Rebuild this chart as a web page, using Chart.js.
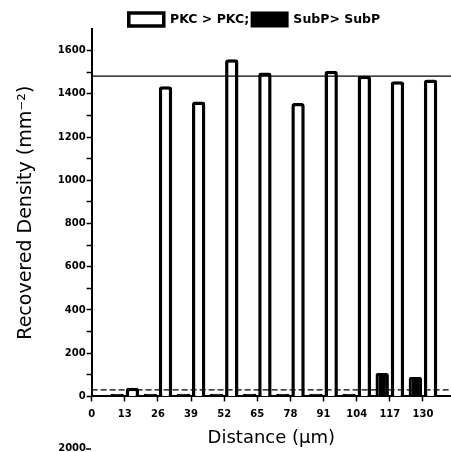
<!DOCTYPE html>
<html>
<head>
<meta charset="utf-8">
<script src="https://cdn.jsdelivr.net/npm/chart.js@4.4.1/dist/chart.umd.min.js"></script>
<style>
  html, body { margin: 0; padding: 0; background: #fff; }
  #wrap { width: 451px; height: 452px; position: relative; }
</style>
</head>
<body>
<div id="wrap"><canvas id="densityChart"></canvas></div>
<script>
// distances (um) where bars sit
const distances = [13, 26, 39, 52, 65, 78, 91, 104, 117, 130];
// PKC > PKC recovered density
const pkcValues = [40, 1435, 1365, 1560, 1499, 1358, 1507, 1484, 1458, 1466];
// SubP > SubP recovered density
const subpValues = [12, 12, 12, 12, 12, 12, 12, 12, 108, 90];
// reference lines
const meanLevel = 1482;
const baseLevel = 30;
const lineSpan = [0, 141];
// ticks
const xTicks = [0, 13, 26, 39, 52, 65, 78, 91, 104, 117, 130];
const yTicks = [0, 100, 200, 300, 400, 500, 600, 700, 800, 900, 1000, 1100, 1200, 1300, 1400, 1500, 1600];
const nextPanelLabel = '2000';

Chart.defaults.font.family = "'DejaVu Sans', sans-serif";
Chart.defaults.color = '#000';

// tighten the legend box and move it right a bit
const legendTweak = {
    id: 'legendTweak',
    beforeLayout(chart) {
        const legend = chart.legend;
        if (legend && !legend._patched) {
            const origFit = legend.fit;
            legend.fit = function () {
                origFit.call(this);
                this.height -= 7;
            };
            legend._patched = true;
        }
    },
    afterLayout(chart) {
        if (chart.legend) {
            chart.legend.left += 29;
            chart.legend.right += 29;
        }
    }
};

// fragment of the panel below (cut off by the frame)
const nextPanel = {
    id: 'nextPanel',
    afterDraw(chart) {
        const ctx = chart.ctx;
        ctx.save();
        ctx.fillStyle = '#000';
        ctx.strokeStyle = '#000';
        ctx.font = "bold 10px 'DejaVu Sans'";
        ctx.textAlign = 'right';
        ctx.textBaseline = 'top';
        ctx.fillText(nextPanelLabel, 86, 443);
        ctx.lineWidth = 1.5;
        ctx.beginPath();
        ctx.moveTo(86, 449);
        ctx.lineTo(91, 449);
        ctx.stroke();
        ctx.restore();
    }
};

const ctx = document.getElementById('densityChart').getContext('2d');
new Chart(ctx, {
    data: {
        datasets: [
            {
                type: 'bar',
                label: 'SubP> SubP',
                data: distances.map((d, i) => ({ x: d, y: subpValues[i] })),
                backgroundColor: '#000',
                borderColor: '#000',
                borderWidth: 3,
                borderRadius: { topLeft: 2, topRight: 2 },
                categoryPercentage: 0.92,
                barPercentage: 0.88
            },
            {
                type: 'bar',
                label: 'PKC > PKC;',
                data: distances.map((d, i) => ({ x: d, y: pkcValues[i] })),
                backgroundColor: '#fff',
                borderColor: '#000',
                borderWidth: 3.5,
                borderRadius: { topLeft: 3, topRight: 3 },
                categoryPercentage: 0.92,
                barPercentage: 0.88
            },
            {
                type: 'line',
                label: 'mean',
                order: -1,
                data: lineSpan.map(x => ({ x: x, y: meanLevel })),
                borderColor: '#000',
                borderWidth: 1.3,
                pointRadius: 0
            },
            {
                type: 'line',
                label: 'base',
                order: -1,
                data: lineSpan.map(x => ({ x: x, y: baseLevel })),
                borderColor: '#000',
                borderWidth: 1.2,
                borderDash: [6, 3],
                pointRadius: 0
            }
        ]
    },
    options: {
        responsive: true,
        maintainAspectRatio: false,
        animation: false,
        layout: { padding: { top: 10, left: 0, right: 0, bottom: 0 } },
        plugins: {
            legend: {
                position: 'top',
                reverse: true,
                labels: {
                    boxWidth: 35,
                    boxHeight: 13,
                    padding: 3,
                    color: '#000',
                    font: { size: 12.5, weight: 'bold' },
                    filter: item => item.datasetIndex < 2
                }
            },
            tooltip: { enabled: false }
        },
        scales: {
            x: {
                type: 'linear',
                offset: false,
                min: 0,
                max: 141,
                afterBuildTicks: scale => { scale.ticks = xTicks.map(v => ({ value: v })); },
                ticks: {
                    color: '#000',
                    padding: 7,
                    maxRotation: 0,
                    font: { size: 10, weight: 'bold' },
                    callback: v => String(v)
                },
                grid: {
                    offset: false,
                    drawOnChartArea: false,
                    drawTicks: true,
                    tickLength: 5,
                    tickColor: '#000',
                    tickWidth: 1.5
                },
                border: { display: true, color: '#000', width: 2 },
                title: {
                    display: true,
                    text: 'Distance (\u00b5m)',
                    color: '#000',
                    font: { size: 18 },
                    padding: { top: 0, bottom: 3 }
                }
            },
            y: {
                min: 0,
                max: 1700,
                afterBuildTicks: scale => { scale.ticks = yTicks.map(v => ({ value: v })); },
                ticks: {
                    color: '#000',
                    padding: 1,
                    font: { size: 10, weight: 'bold' },
                    callback: v => (v % 200 === 0 ? String(v) : '')
                },
                grid: {
                    drawOnChartArea: false,
                    drawTicks: true,
                    tickLength: 5,
                    tickColor: '#000',
                    tickWidth: 1.5
                },
                border: { display: true, color: '#000', width: 2 },
                title: {
                    display: true,
                    text: 'Recovered Density (mm\u207b\u00b2)',
                    color: '#000',
                    font: { size: 19 },
                    padding: { top: 15, bottom: 19 }
                }
            }
        }
    },
    plugins: [legendTweak, nextPanel]
});
</script>
</body>
</html>
